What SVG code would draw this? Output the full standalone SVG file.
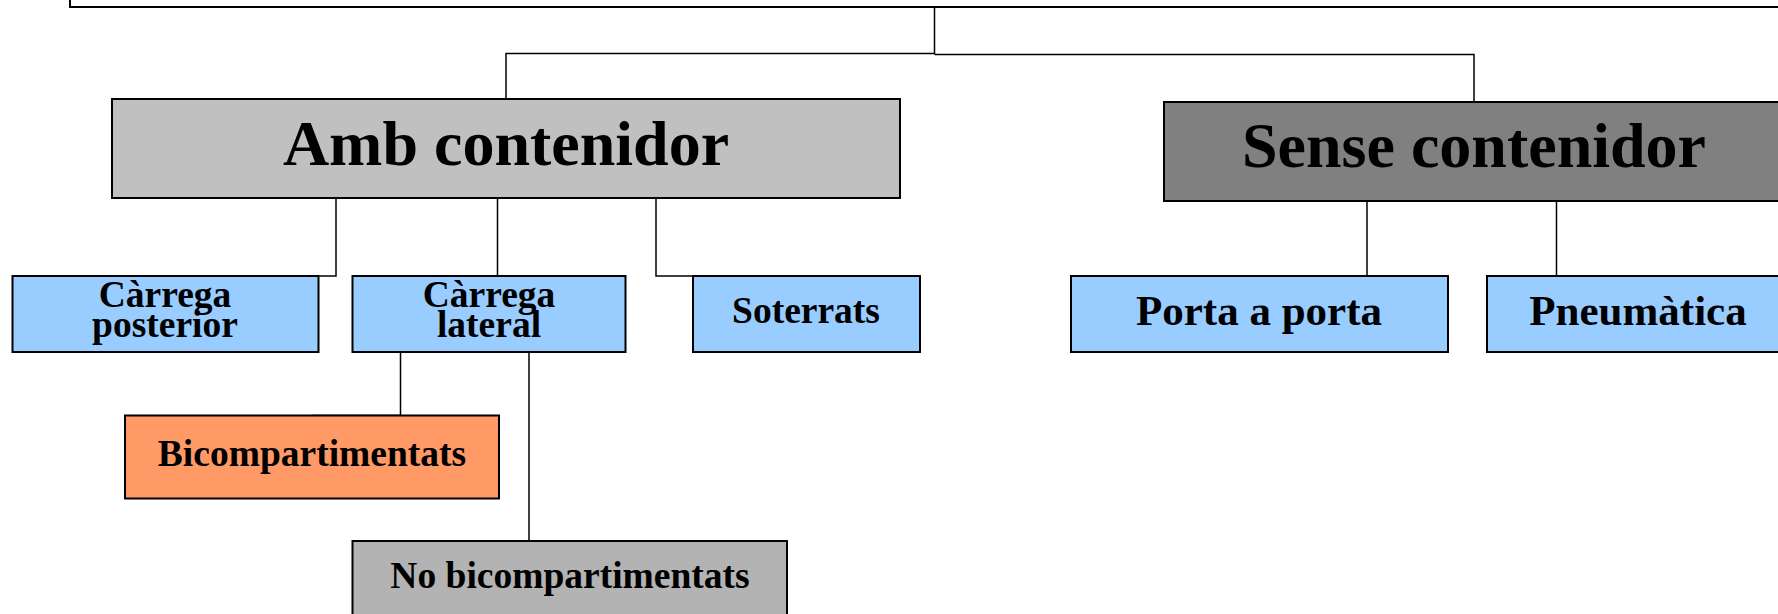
<svg xmlns="http://www.w3.org/2000/svg" width="1778" height="614" viewBox="0 0 1778 614">
<style>
.box{stroke:#000;stroke-width:2}
.blue{fill:#99ccff}
.t{font-family:"Liberation Serif","Times New Roman",serif;font-weight:bold;fill:#000;text-anchor:middle}
.big{font-size:64px}
.med{font-size:43px}
.sm{font-size:37.5px}
#connectors path{fill:none;stroke:#000;stroke-width:1.5}
</style>
<rect width="1778" height="614" fill="#fff"/>
<g id="connectors">
<path d="M934.5,7 V53.5 H506 V99"/>
<path d="M934.5,54.5 H1474 V102"/>
<path d="M336,198 V276 H165"/>
<path d="M497.5,198 V276 H489"/>
<path d="M656,198 V276 H806"/>
<path d="M1367,200.5 V276 H1259"/>
<path d="M1556.5,200.5 V276 H1638"/>
<path d="M400.5,352 V415.5 H312"/>
<path d="M529,352 V541 H570"/>
</g>
<g id="root"><rect class="box" x="70" y="-20" width="1730" height="27" fill="#fff"/></g>
<g id="amb"><rect class="box" x="112" y="99" width="788" height="99" fill="#c0c0c0"/><text class="t big" x="506" y="165">Amb contenidor</text></g>
<g id="sense"><rect class="box" x="1164" y="102" width="630" height="99" fill="#808080"/><text class="t big" x="1474" y="167">Sense contenidor</text></g>
<g id="posterior"><rect class="box blue" x="12.5" y="276" width="306" height="76"/><text class="t sm" x="165" y="307">Càrrega</text><text class="t sm" x="165" y="337">posterior</text></g>
<g id="lateral"><rect class="box blue" x="352.5" y="276" width="273" height="76"/><text class="t sm" x="489" y="307">Càrrega</text><text class="t sm" x="489" y="337">lateral</text></g>
<g id="soterrats"><rect class="box blue" x="693" y="276" width="227" height="76"/><text class="t sm" x="806" y="323">Soterrats</text></g>
<g id="porta"><rect class="box blue" x="1071" y="276" width="377" height="76"/><text class="t med" x="1259" y="325">Porta a porta</text></g>
<g id="pneumatica"><rect class="box blue" x="1487" y="276" width="302" height="76"/><text class="t med" x="1638" y="325">Pneumàtica</text></g>
<g id="bicomp"><rect class="box" x="125" y="415.5" width="374" height="83" fill="#ff9966"/><text class="t sm" x="312" y="466">Bicompartimentats</text></g>
<g id="nobicomp"><rect class="box" x="352.5" y="541" width="434.5" height="90" fill="#b3b3b3"/><text class="t sm" x="570" y="588">No bicompartimentats</text></g>
</svg>
